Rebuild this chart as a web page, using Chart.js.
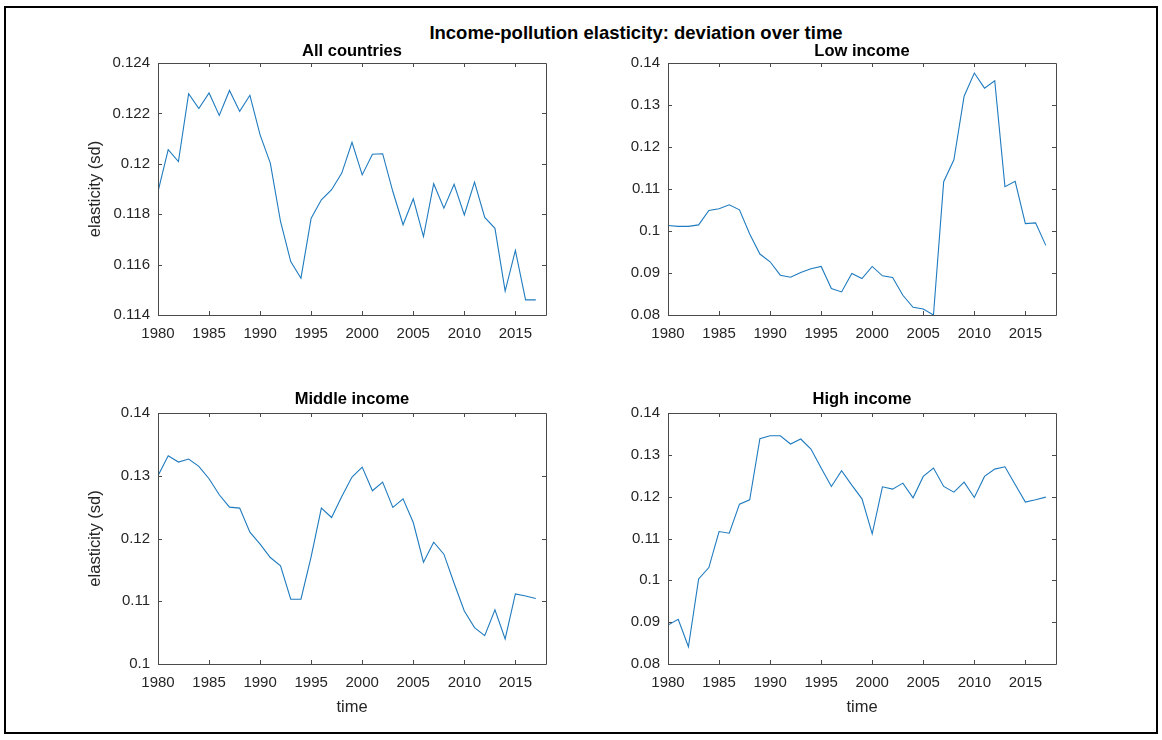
<!DOCTYPE html>
<html>
<head>
<meta charset="utf-8">
<title>Income-pollution elasticity: deviation over time</title>
<script src="https://cdn.jsdelivr.net/npm/chart.js@4"></script>
<style>
  html, body { margin: 0; padding: 0; background: #fff; }
  body { width: 1162px; height: 740px; position: relative; overflow: hidden;
         font-family: "Liberation Sans", Arial, Helvetica, sans-serif; }
  #frame { position: absolute; left: 4px; top: 6px; width: 1150px; height: 724px;
           border: 2px solid #000; }
  #suptitle { position: absolute; left: 336px; top: 22px; width: 600px; text-align: center;
              font-size: 18.5px; line-height: 22px; font-weight: bold; color: #000; white-space: nowrap; }
  canvas { position: absolute; }
</style>
</head>
<body>
<div id="frame"></div>
<div id="suptitle">Income-pollution elasticity: deviation over time</div>
<canvas id="pAll"></canvas>
<canvas id="pLow"></canvas>
<canvas id="pMiddle"></canvas>
<canvas id="pHigh"></canvas>
<script>
// ---- data ----
const years = [1980, 1981, 1982, 1983, 1984, 1985, 1986, 1987, 1988, 1989,
               1990, 1991, 1992, 1993, 1994, 1995, 1996, 1997, 1998, 1999,
               2000, 2001, 2002, 2003, 2004, 2005, 2006, 2007, 2008, 2009,
               2010, 2011, 2012, 2013, 2014, 2015, 2016, 2017];

const allCountries = [0.1189, 0.12056, 0.12009, 0.12278, 0.12219, 0.12281, 0.12192, 0.12291, 0.12208, 0.12272,
                      0.12115, 0.12003, 0.11771, 0.11612, 0.11546, 0.11784, 0.11857, 0.11897, 0.11963, 0.12085,
                      0.11956, 0.12038, 0.1204, 0.1189, 0.11758, 0.11861, 0.11711, 0.11921, 0.11824, 0.11919,
                      0.11797, 0.11927, 0.11787, 0.11744, 0.11495, 0.11656, 0.1146, 0.1146];

const lowIncome = [0.1013, 0.1011, 0.1011, 0.10145, 0.10488, 0.10528, 0.10624, 0.10504, 0.0993, 0.09451,
                   0.09267, 0.08948, 0.089, 0.09012, 0.091, 0.09156, 0.08629, 0.08549, 0.08988, 0.08868,
                   0.09156, 0.08932, 0.08892, 0.08469, 0.08182, 0.08142, 0.08, 0.11175, 0.11694, 0.1321,
                   0.13761, 0.13401, 0.13577, 0.11055, 0.11183, 0.10177, 0.10193, 0.09658];

const middleIncome = [0.13, 0.13319, 0.13218, 0.13266, 0.13149, 0.12952, 0.12697, 0.125, 0.12484, 0.12101,
                      0.1191, 0.11697, 0.11564, 0.11032, 0.11032, 0.11713, 0.12484, 0.12335, 0.1267, 0.12979,
                      0.13138, 0.12761, 0.12899, 0.12495, 0.12633, 0.12255, 0.11622, 0.11941, 0.1175, 0.11287,
                      0.10846, 0.1058, 0.10452, 0.10862, 0.10399, 0.11117, 0.11085, 0.11043];

const highIncome = [0.08932, 0.09068, 0.08413, 0.10034, 0.10305, 0.11167, 0.11127, 0.11821, 0.11925, 0.13385,
                    0.13457, 0.13457, 0.13258, 0.13378, 0.13138, 0.12683, 0.12244, 0.12619, 0.12276, 0.11949,
                    0.11111, 0.12236, 0.1218, 0.12324, 0.11973, 0.12484, 0.12683, 0.12244, 0.12109, 0.12348,
                    0.11981, 0.12484, 0.12659, 0.12715, 0.12292, 0.11869, 0.11925, 0.11989];

// ---- tick values ----
const xTicks = [1980, 1985, 1990, 1995, 2000, 2005, 2010, 2015];
const allTicks = [0.114, 0.116, 0.118, 0.12, 0.122, 0.124];
const lowTicks = [0.08, 0.09, 0.1, 0.11, 0.12, 0.13, 0.14];
const middleTicks = [0.1, 0.11, 0.12, 0.13, 0.14];
const highTicks = [0.08, 0.09, 0.1, 0.11, 0.12, 0.13, 0.14];

// ---- panel layout (axes box corners in page pixels) ----
const panels = [
  { id: 'pAll',    title: 'All countries', values: allCountries, yTicks: allTicks,
    L: 158, T: 63,  R: 546,  B: 315, yLabel: true,  xLabel: false, titleGap: 2 },
  { id: 'pLow',    title: 'Low income',    values: lowIncome,    yTicks: lowTicks,
    L: 668, T: 63,  R: 1056, B: 315, yLabel: false, xLabel: false, titleGap: 2 },
  { id: 'pMiddle', title: 'Middle income', values: middleIncome, yTicks: middleTicks,
    L: 158, T: 413, R: 546,  B: 664, yLabel: true,  xLabel: true,  titleGap: 4 },
  { id: 'pHigh',   title: 'High income',   values: highIncome,   yTicks: highTicks,
    L: 668, T: 413, R: 1056, B: 664, yLabel: false, xLabel: true,  titleGap: 4 }
];

const FONT = '"Liberation Sans", Arial, Helvetica, sans-serif';
const AXIS_COLOR = '#262626';
const LINE_COLOR = '#1f7bbf';
const LEFT_W = 80, TOP_H = 25, BOTTOM_H = 60, RIGHT_W = 12, TICK_LEN = 4;

// Axes box with inward tick marks on all four sides
const boxPlugin = {
  id: 'boxAxes',
  afterDatasetsDraw(chart) {
    const { ctx, chartArea: a, scales: { x, y } } = chart;
    ctx.save();
    ctx.strokeStyle = '#4a4a4a';
    ctx.lineWidth = 1;
    ctx.beginPath();
    ctx.rect(a.left + 0.5, a.top + 0.5, a.right - a.left, a.bottom - a.top);
    x.ticks.forEach(t => {
      const px = Math.round(x.getPixelForValue(t.value)) + 0.5;
      ctx.moveTo(px, a.bottom); ctx.lineTo(px, a.bottom - TICK_LEN);
      ctx.moveTo(px, a.top); ctx.lineTo(px, a.top + TICK_LEN);
    });
    y.ticks.forEach(t => {
      const py = Math.round(y.getPixelForValue(t.value)) + 0.5;
      ctx.moveTo(a.left, py); ctx.lineTo(a.left + TICK_LEN, py);
      ctx.moveTo(a.right, py); ctx.lineTo(a.right - TICK_LEN, py);
    });
    ctx.stroke();
    ctx.restore();
  }
};

panels.forEach(p => {
  const cv = document.getElementById(p.id);
  const w = (p.R - p.L) + LEFT_W + RIGHT_W;
  const h = (p.B - p.T) + TOP_H + BOTTOM_H;
  cv.style.left = (p.L - LEFT_W) + 'px';
  cv.style.top = (p.T - TOP_H) + 'px';
  cv.width = w; cv.height = h;
  cv.style.width = w + 'px'; cv.style.height = h + 'px';

  new Chart(cv, {
    type: 'line',
    data: {
      datasets: [{
        data: years.map((yr, i) => ({ x: yr, y: p.values[i] })),
        borderColor: LINE_COLOR,
        borderWidth: 1.1,
        pointRadius: 0,
        tension: 0,
        fill: false
      }]
    },
    options: {
      responsive: false,
      animation: false,
      devicePixelRatio: 1,
      layout: { padding: { top: 0, left: 0, right: RIGHT_W, bottom: 0 } },
      plugins: {
        legend: { display: false },
        tooltip: { enabled: false },
        title: {
          display: true,
          text: p.title,
          fullSize: false,
          color: '#000',
          font: { family: FONT, size: 16.5, weight: 'bold', lineHeight: '20px' },
          padding: { top: TOP_H - 20 - p.titleGap, bottom: p.titleGap }
        }
      },
      scales: {
        x: {
          type: 'linear',
          min: 1980, max: 2018,
          afterBuildTicks: s => { s.ticks = xTicks.map(v => ({ value: v })); },
          afterFit: s => { s.height = BOTTOM_H; },
          grid: { display: false, drawTicks: false },
          border: { display: false },
          ticks: {
            autoSkip: false, maxRotation: 0, padding: 10,
            color: AXIS_COLOR, font: { family: FONT, size: 15 },
            callback: v => String(v)
          },
          title: {
            display: p.xLabel, text: 'time', color: AXIS_COLOR,
            font: { family: FONT, size: 16.5, lineHeight: '20px' },
            padding: { top: 7, bottom: 7 }
          }
        },
        y: {
          type: 'linear',
          min: p.yTicks[0], max: p.yTicks[p.yTicks.length - 1],
          afterBuildTicks: s => { s.ticks = p.yTicks.map(v => ({ value: v })); },
          afterFit: s => { s.width = LEFT_W; },
          grid: { display: false, drawTicks: false },
          border: { display: false },
          ticks: {
            padding: 8, color: AXIS_COLOR, font: { family: FONT, size: 15 },
            callback: v => String(v)
          },
          title: {
            display: p.yLabel, text: 'elasticity (sd)', color: AXIS_COLOR,
            font: { family: FONT, size: 16.5, lineHeight: '20px' },
            padding: { top: 7, bottom: 7 }
          }
        }
      }
    },
    plugins: [boxPlugin]
  });
});
</script>
</body>
</html>
